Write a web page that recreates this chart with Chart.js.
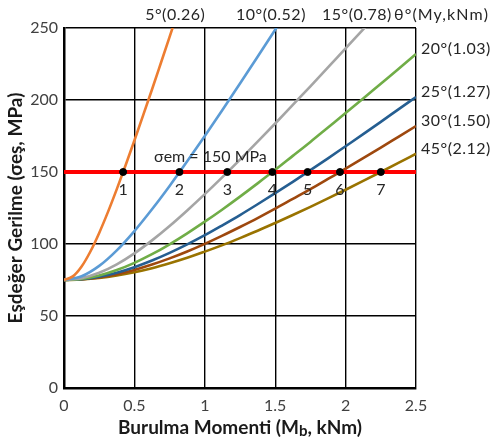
<!DOCTYPE html>
<html><head><meta charset="utf-8">
<script src="https://cdn.jsdelivr.net/npm/chart.js@4"></script>
<style>html,body{margin:0;padding:0;background:#fff}</style>
</head><body>
<canvas id="c" width="493" height="439"></canvas>
<script>
// Burulma momenti (x, kNm)
const mb = [0,0.125,0.25,0.375,0.5,0.625,0.75,0.875,1,1.125,1.25,1.375,1.5,1.625,1.75,1.875,2,2.125,2.25,2.375,2.5];
// finer x grid for the steep 5° curve
const mb5 = [0,0.0625,0.125,0.1875,0.25,0.3125,0.375,0.4375,0.5,0.5625,0.625,0.6875,0.75,0.8125];
// Esdeger gerilme (MPa) for each bending angle
const s5  = [75,77.5,84.4,94.8,107.7,122.3,138.1,154.7,171.9,189.5,207.3,225.5,243.8,262.3];
const s10 = [75,77.6,84.8,95.6,109.0,124.1,140.3,157.4,175.0,193.0,211.4,230.0,248.8,267.7];
const s15 = [75,76.3,80.0,85.9,93.5,102.5,112.5,123.3,134.6,146.4,158.6,171.1,183.7,196.6,209.5,222.6,235.9,249.1,262.5];
const s20 = [75,75.8,78.1,81.9,86.9,92.9,99.8,107.4,115.5,124.0,132.9,142.1,151.5,161.2,170.9,180.9,190.9,201.0,211.3,221.5,231.9];
const s25 = [75,75.6,77.3,80.1,83.9,88.5,93.8,99.7,106.1,113.0,120.1,127.6,135.3,143.2,151.3,159.5,167.9,176.3,184.8,193.5,202.1];
const s30 = [75,75.5,76.8,79.0,82.0,85.7,90.0,94.8,100.1,105.8,111.8,118.0,124.5,131.3,138.1,145.2,152.3,159.6,166.9,174.4,181.9];
const s45 = [75,75.4,76.4,78.1,80.4,83.2,86.6,90.4,94.7,99.2,104.1,109.2,114.6,120.1,125.8,131.7,137.7,143.8,150.0,156.3,162.7];
const seriesNames = ["5°(0.26)","10°(0.52)","15°(0.78)","20°(1.03)","25°(1.27)","30°(1.50)","45°(2.12)"];
// allowable stress and intersection points
const sigmaEm = 150;
const crossMb = [0.42,0.82,1.16,1.48,1.73,1.96,2.25];
const crossLabels = ["1","2","3","4","5","6","7"];
const xTicks = [0,0.5,1,1.5,2,2.5];
const yTicks = [0,50,100,150,200,250];

const colors = ["#ED7D31","#5B9BD5","#A5A5A5","#70AD47","#255E91","#9E480E","#997300"];
const allSeries = [s5,s10,s15,s20,s25,s30,s45];
const allX = [mb5,mb,mb,mb,mb,mb,mb];
const FONT = "Lato";

const curveSets = allSeries.map((arr,k)=>({
  type:'line',
  label: seriesNames[k],
  data: arr.map((v,i)=>({x:allX[k][i],y:v})),
  borderColor: colors[k], borderWidth: 2.6,
  pointRadius: 0, cubicInterpolationMode:'monotone', clip: 0, order: 10
}));

const labelPlugin = {
  id:'labels',
  afterDatasetsDraw(chart){
    const {ctx, chartArea:ca, scales:{x,y}} = chart;
    ctx.save();
    ctx.fillStyle = '#262626';
    ctx.textBaseline = 'middle';
    // numbers under intersection points
    ctx.font = `16px ${FONT}`;
    ctx.textAlign = 'center';
    crossMb.forEach((m,i)=>{
      ctx.fillText(crossLabels[i], x.getPixelForValue(m), y.getPixelForValue(sigmaEm)+18);
    });
    // sigma label
    ctx.fillText("σem = 150 MPa", x.getPixelForValue(1.04), y.getPixelForValue(sigmaEm)-15);
    // top labels (series that leave through the top)
    ctx.letterSpacing = '0.5px';
    const topX = [0.79,1.47,2.08];
    for(let k=0;k<3;k++){
      ctx.fillText(seriesNames[k], x.getPixelForValue(topX[k]), ca.top-13);
    }
    ctx.textAlign = 'left';
    ctx.letterSpacing = '1.1px';
    ctx.fillText("θ°(My,kNm)", ca.right-22, ca.top-13);
    // right labels at curve ends
    ctx.letterSpacing = '0.5px';
    for(let k=3;k<7;k++){
      const arr = allSeries[k];
      ctx.fillText(seriesNames[k], ca.right+5, y.getPixelForValue(arr[arr.length-1])-5);
    }
    ctx.letterSpacing = '0px';
    // x axis title with subscript
    const p1 = "Burulma Momenti (M", sub = "b", p2 = ", kNm)";
    ctx.font = `bold 19px ${FONT}`;
    const w1 = ctx.measureText(p1).width, w3 = ctx.measureText(p2).width;
    ctx.font = `bold 15px ${FONT}`;
    const w2 = ctx.measureText(sub).width;
    const total = w1+w2+w3;
    let sx = (ca.left+ca.right)/2 - total/2;
    const ty = 428;
    ctx.fillStyle = '#1a1a1a';
    ctx.font = `bold 19px ${FONT}`;
    ctx.fillText(p1, sx, ty);
    ctx.font = `bold 15px ${FONT}`;
    ctx.fillText(sub, sx+w1, ty+3);
    ctx.font = `bold 19px ${FONT}`;
    ctx.fillText(p2, sx+w1+w2, ty);
    ctx.restore();
  }
};

new Chart(document.getElementById('c'), {
  type:'line',
  data:{ datasets:[
    { type:'scatter', data: crossMb.map(m=>({x:m,y:sigmaEm})), backgroundColor:'#000', borderColor:'#000', pointRadius:3.5, order:1 },
    { type:'line', data:[{x:0,y:sigmaEm},{x:2.5,y:sigmaEm}], borderColor:'#FF0000', borderWidth:4, pointRadius:0, order:2 },
    ...curveSets
  ]},
  options:{
    responsive:false, animation:false,
    layout:{ padding:{ left:0, top:28, right:77, bottom:0 } },
    plugins:{ legend:{display:false}, tooltip:{enabled:false} },
    scales:{
      x:{ type:'linear', min:0, max:2.5,
        afterBuildTicks(s){ s.ticks = xTicks.map(v=>({value:v})); },
        afterFit(s){ s.height = 51; },
        grid:{ color:'#000', lineWidth:1.4, drawTicks:false },
        border:{ color:'#000', width:2.5 },
        ticks:{ color:'#404040', font:{family:FONT,size:16}, padding:8, maxRotation:0,
          callback:(v)=>String(v) },
        title:{ display:false }
      },
      y:{ type:'linear', min:0, max:250,
        afterBuildTicks(s){ s.ticks = yTicks.map(v=>({value:v})); },
        afterFit(s){ s.width = 64; },
        grid:{ color:'#000', lineWidth:1.4, drawTicks:false },
        border:{ color:'#000', width:2.5 },
        ticks:{ color:'#404040', font:{family:FONT,size:16}, padding:6 },
        title:{ display:true, text:'Eşdeğer Gerilme (σeş, MPa)', color:'#1a1a1a',
          font:{family:FONT,size:19,weight:'bold'}, padding:{top:4,bottom:0} }
      }
    }
  },
  plugins:[labelPlugin]
});
</script>
</body></html>
